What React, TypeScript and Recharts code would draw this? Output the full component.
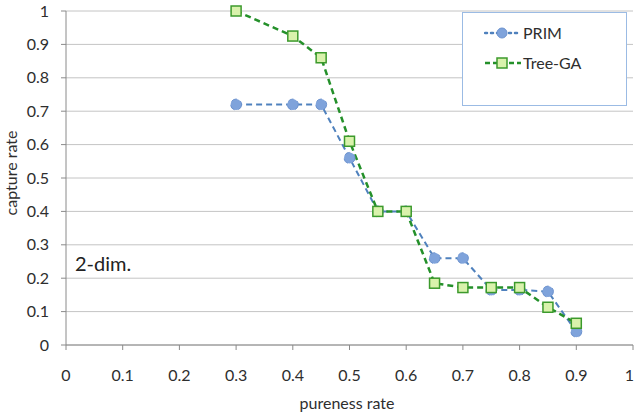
import React from 'react';
import { LineChart, Line, XAxis, YAxis, CartesianGrid, Legend } from 'recharts';

const pureness = [0.3, 0.4, 0.45, 0.5, 0.55, 0.6, 0.65, 0.7, 0.75, 0.8, 0.85, 0.9];
const primValues = [0.72, 0.72, 0.72, 0.56, 0.4, 0.4, 0.26, 0.26, 0.165, 0.165, 0.16, 0.04];
const treeGaValues = [1.0, 0.925, 0.86, 0.61, 0.4, 0.4, 0.185, 0.172, 0.172, 0.172, 0.113, 0.065];
const xTicks = [0, 0.1, 0.2, 0.3, 0.4, 0.5, 0.6, 0.7, 0.8, 0.9, 1];
const yTicks = [0, 0.1, 0.2, 0.3, 0.4, 0.5, 0.6, 0.7, 0.8, 0.9, 1];

const data = pureness.map((x, i) => ({ x, prim: primValues[i], tree: treeGaValues[i] }));

const FONT = 'Lato, "Open Sans", sans-serif';
const TEXT = '#2e2e2e';
const PRIM_LINE = '#4f81bd';
const PRIM_FILL = '#7fa3db';
const TREE_LINE = '#24902a';
const TREE_FILL = '#d9f2ac';

const fmt = (v: number) => String(Math.round(v * 10) / 10);

const SquareDot = (props: any) => {
  const { cx, cy, index } = props;
  if (cx == null || cy == null) return <g key={`s-${index}`} />;
  return (
    <rect key={`s-${index}`} x={cx - 5} y={cy - 5} width={10} height={10} fill={TREE_FILL} stroke="#3c9a2c" strokeWidth={1.5} />
  );
};

const XTick = (props: any) => {
  const { x, y, payload } = props;
  const last = payload.value >= 1;
  return (
    <text x={last ? 634 : x} y={y} dy="0.71em" textAnchor={last ? 'end' : 'middle'} fill={TEXT} fontSize={16} fontFamily={FONT}>
      {fmt(payload.value)}
    </text>
  );
};

const LegendBox = () => (
  <div style={{ width: 165, height: 94, border: '1px solid #9bbbe4', background: '#fff', boxSizing: 'border-box', fontFamily: FONT, fontSize: 16, color: TEXT }}>
    <div style={{ position: 'absolute', left: 22, top: 11, display: 'flex', alignItems: 'center' }}>
      <svg width={38} height={14}>
        <line x1={1} y1={7} x2={37} y2={7} stroke={PRIM_LINE} strokeWidth={2.5} strokeDasharray="2 4" strokeLinecap="round" />
        <circle cx={18} cy={7} r={5} fill={PRIM_FILL} stroke="#6d93cf" />
      </svg>
      <span style={{ marginLeft: 1 }}>PRIM</span>
    </div>
    <div style={{ position: 'absolute', left: 22, top: 41, display: 'flex', alignItems: 'center' }}>
      <svg width={38} height={14}>
        <line x1={1} y1={7} x2={37} y2={7} stroke={TREE_LINE} strokeWidth={2.5} strokeDasharray="5 3" />
        <rect x={13} y={2} width={10} height={10} fill={TREE_FILL} stroke="#3c9a2c" strokeWidth={1.5} />
      </svg>
      <span style={{ marginLeft: 1 }}>Tree-GA</span>
    </div>
  </div>
);

export default function App() {
  return (
    <div style={{ position: 'absolute', left: 0, top: 0, width: 634, height: 417, background: '#fff' }}>
      <LineChart width={634} height={417} data={data} margin={{ top: 11, right: 1, left: 0, bottom: 0 }}>
        <CartesianGrid vertical={false} stroke="#c4c4c4" strokeWidth={1} />
        <XAxis
          dataKey="x"
          type="number"
          domain={[0, 1]}
          ticks={xTicks}
          interval={0}
          height={72}
          stroke="#8a8a8a"
          tickSize={5}
          tickMargin={20}
          tick={<XTick />}
          label={{
            content: () => (
              <text x={347} y={409} textAnchor="middle" fill={TEXT} fontSize={16} fontFamily={FONT}>
                pureness rate
              </text>
            ),
          }}
        />
        <YAxis
          type="number"
          domain={[0, 1]}
          ticks={yTicks}
          tickFormatter={fmt}
          interval={0}
          width={66}
          stroke="#8a8a8a"
          tickSize={5}
          tickMargin={12}
          tick={{ fill: TEXT, fontSize: 16, fontFamily: FONT }}
          label={{
            content: () => (
              <g>
                <text x={17} y={173} textAnchor="middle" fill={TEXT} fontSize={16} fontFamily={FONT} transform="rotate(-90 17 173)">
                  capture rate
                </text>
                <text x={75} y={271} textAnchor="start" fill="#222" fontSize={20} fontFamily={FONT}>
                  2-dim.
                </text>
              </g>
            ),
          }}
        />
        <Legend
          layout="vertical"
          align="center"
          verticalAlign="middle"
          wrapperStyle={{ position: 'absolute', left: 462, top: 12, width: 165, height: 94 }}
          content={() => <LegendBox />}
        />
        <Line
          type="linear"
          dataKey="prim"
          name="PRIM"
          stroke={PRIM_LINE}
          strokeWidth={2}
          strokeDasharray="6 4"
          dot={{ r: 5.5, fill: PRIM_FILL, stroke: '#6d93cf', strokeWidth: 1 }}
          isAnimationActive={false}
        />
        <Line
          type="linear"
          dataKey="tree"
          name="Tree-GA"
          stroke={TREE_LINE}
          strokeWidth={2.5}
          strokeDasharray="6 4"
          dot={SquareDot}
          isAnimationActive={false}
        />
      </LineChart>
    </div>
  );
}
